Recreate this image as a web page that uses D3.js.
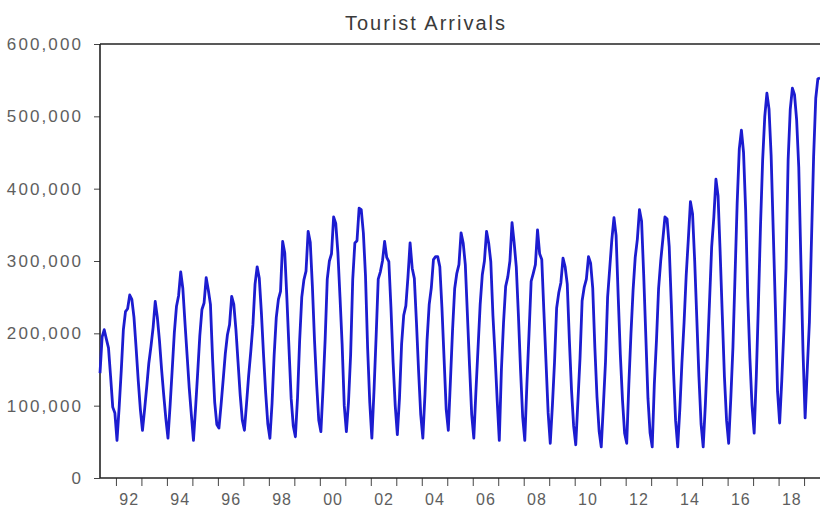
<!DOCTYPE html>
<html>
<head>
<meta charset="utf-8">
<script src="https://cdn.jsdelivr.net/npm/d3@7/dist/d3.min.js"></script>
<style>
  html, body { margin: 0; padding: 0; background: #fff; }
  svg { display: block; }
</style>
</head>
<body>
<svg id="chart" width="820" height="512"></svg>
<script>
// Monthly tourist arrivals, May 1991 – Aug 2019
const chartTitle = "Tourist Arrivals";
const firstYear = 1991;
const firstMonth = 5; // May

const arrivals = [
  /* 1991 May–Dec */ 145000, 195000, 205000, 192000, 180000, 140000, 98000, 90000,
  /* 1992 */ 52000, 97000, 148000, 205000, 230000, 234000, 253000, 247000, 222000, 180000, 135000, 95000,
  /* 1993 */ 66000, 95000, 126000, 159000, 182000, 208000, 244000, 222000, 190000, 150000, 115000, 82000,
  /* 1994 */ 55000, 100000, 150000, 201000, 237000, 252000, 285000, 262000, 215000, 170000, 125000, 88000,
  /* 1995 */ 52000, 97000, 146000, 197000, 233000, 242000, 277000, 260000, 240000, 165000, 105000, 74000,
  /* 1996 */ 69000, 101000, 136000, 172000, 198000, 212000, 251000, 240000, 205000, 160000, 115000, 80000,
  /* 1997 */ 66000, 103000, 142000, 175000, 212000, 268000, 292000, 276000, 228000, 170000, 118000, 75000,
  /* 1998 */ 55000, 103000, 170000, 222000, 247000, 258000, 327000, 311000, 248000, 178000, 110000, 72000,
  /* 1999 */ 57000, 111000, 190000, 250000, 274000, 286000, 341000, 326000, 265000, 190000, 130000, 80000,
  /* 2000 */ 64000, 123000, 191000, 275000, 300000, 310000, 361000, 352000, 312000, 250000, 185000, 100000,
  /* 2001 */ 64000, 105000, 170000, 275000, 325000, 328000, 373000, 371000, 339000, 280000, 180000, 105000,
  /* 2002 */ 55000, 120000, 195000, 275000, 285000, 300000, 327000, 305000, 299000, 235000, 160000, 100000,
  /* 2003 */ 60000, 110000, 185000, 225000, 238000, 278000, 325000, 290000, 276000, 215000, 148000, 88000,
  /* 2004 */ 55000, 115000, 191000, 240000, 263000, 302000, 306000, 306000, 292000, 235000, 165000, 95000,
  /* 2005 */ 66000, 135000, 205000, 262000, 283000, 295000, 339000, 325000, 295000, 225000, 155000, 88000,
  /* 2006 */ 55000, 120000, 180000, 240000, 281000, 300000, 341000, 325000, 299000, 225000, 170000, 108000,
  /* 2007 */ 52000, 150000, 215000, 265000, 278000, 300000, 353000, 325000, 292000, 225000, 150000, 85000,
  /* 2008 */ 52000, 130000, 200000, 272000, 283000, 295000, 343000, 310000, 302000, 230000, 160000, 90000,
  /* 2009 */ 48000, 100000, 160000, 235000, 256000, 270000, 304000, 292000, 268000, 190000, 122000, 72000,
  /* 2010 */ 46000, 105000, 165000, 245000, 264000, 275000, 306000, 297000, 262000, 180000, 112000, 65000,
  /* 2011 */ 43000, 100000, 160000, 250000, 290000, 330000, 360000, 335000, 250000, 170000, 108000, 62000,
  /* 2012 */ 48000, 130000, 200000, 260000, 305000, 330000, 371000, 355000, 280000, 195000, 110000, 62000,
  /* 2013 */ 43000, 130000, 190000, 262000, 300000, 330000, 361000, 358000, 320000, 240000, 150000, 80000,
  /* 2014 */ 43000, 95000, 160000, 215000, 280000, 330000, 382000, 365000, 300000, 220000, 140000, 75000,
  /* 2015 */ 43000, 100000, 170000, 245000, 320000, 360000, 413000, 390000, 311000, 225000, 140000, 80000,
  /* 2016 */ 48000, 110000, 180000, 280000, 380000, 455000, 481000, 450000, 370000, 250000, 165000, 100000,
  /* 2017 */ 62000, 140000, 240000, 350000, 440000, 500000, 532000, 510000, 445000, 340000, 235000, 120000,
  /* 2018 */ 76000, 135000, 205000, 290000, 440000, 510000, 539000, 530000, 495000, 430000, 300000, 175000,
  /* 2019 Jan–Aug */ 83000, 150000, 215000, 330000, 445000, 525000, 552000, 553000
];

const tickYears = [1992, 1993, 1994, 1995, 1996, 1997, 1998, 1999, 2000, 2001, 2002, 2003, 2004, 2005,
                   2006, 2007, 2008, 2009, 2010, 2011, 2012, 2013, 2014, 2015, 2016, 2017, 2018, 2019];
const labelYears = [1992, 1994, 1996, 1998, 2000, 2002, 2004, 2006, 2008, 2010, 2012, 2014, 2016, 2018];
const yearLabels = ["92", "94", "96", "98", "00", "02", "04", "06", "08", "10", "12", "14", "16", "18"];
const yTicks = [0, 100000, 200000, 300000, 400000, 500000, 600000];

// Plot frame
const plotLeft = 100, plotRight = 820, plotTop = 44, plotBottom = 478;
const font = "'Liberation Sans', Arial, sans-serif";
const labelColor = "#5e5e5e";

const svg = d3.select("#chart");

// Observation i -> decimal year
const obsTime = i => firstYear + (firstMonth - 1 + i) / 12;

const x = d3.scaleLinear()
  .domain([obsTime(0), obsTime(arrivals.length - 1)])
  .range([plotLeft, plotRight]);

const y = d3.scaleLinear()
  .domain([0, 600000])
  .range([plotBottom, plotTop]);

// Title
svg.append("text")
  .attr("x", 426)
  .attr("y", 30)
  .attr("text-anchor", "middle")
  .attr("font-family", font)
  .attr("font-size", 20)
  .attr("letter-spacing", 2)
  .attr("fill", "#3a3a3a")
  .text(chartTitle);

// Y axis
const yAxis = svg.append("g")
  .attr("transform", `translate(${plotLeft},0)`)
  .call(d3.axisLeft(y)
    .tickValues(yTicks)
    .tickSize(6)
    .tickPadding(13)
    .tickFormat(d3.format(",")));
yAxis.select(".domain").remove();
yAxis.selectAll(".tick line").attr("stroke", "#444");
yAxis.selectAll(".tick text")
  .attr("font-family", font)
  .attr("font-size", 17)
  .attr("letter-spacing", 2.1)
  .attr("dx", 2)
  .attr("fill", labelColor);

// X axis: year boundaries as ticks
const xTicks = svg.append("g")
  .attr("transform", `translate(0,${plotBottom})`)
  .call(d3.axisBottom(x)
    .tickValues(tickYears.map(yr => yr - 1 / 24))
    .tickSize(8)
    .tickFormat(""));
xTicks.select(".domain").remove();
xTicks.selectAll(".tick line").attr("stroke", "#444");

// X axis: two-digit year labels centred on each year
const yearOf = new Map(labelYears.map((yr, i) => [yr + 5.5 / 12, yearLabels[i]]));
const xLabels = svg.append("g")
  .attr("transform", `translate(0,${plotBottom})`)
  .call(d3.axisBottom(x)
    .tickValues([...yearOf.keys()])
    .tickSize(0)
    .tickPadding(16)
    .tickFormat(d => yearOf.get(d)));
xLabels.select(".domain").remove();
xLabels.selectAll(".tick text")
  .attr("font-family", font)
  .attr("font-size", 16)
  .attr("letter-spacing", 1)
  .attr("fill", labelColor);

// Frame lines (left, top, bottom)
const frame = svg.append("g")
  .attr("stroke", "#222")
  .attr("stroke-width", 1.6)
  .attr("fill", "none");
frame.append("line").attr("x1", plotLeft).attr("x2", plotLeft).attr("y1", plotTop).attr("y2", plotBottom);
frame.append("line").attr("x1", plotLeft).attr("x2", plotRight + 2).attr("y1", plotTop).attr("y2", plotTop);
frame.append("line").attr("x1", plotLeft).attr("x2", plotRight + 2).attr("y1", plotBottom).attr("y2", plotBottom);

// Series line
const line = d3.line()
  .x((d, i) => x(obsTime(i)))
  .y(d => y(d));

svg.append("path")
  .datum(arrivals)
  .attr("fill", "none")
  .attr("stroke", "#1c1cd0")
  .attr("stroke-width", 2.8)
  .attr("stroke-linejoin", "round")
  .attr("d", line);
</script>
</body>
</html>
